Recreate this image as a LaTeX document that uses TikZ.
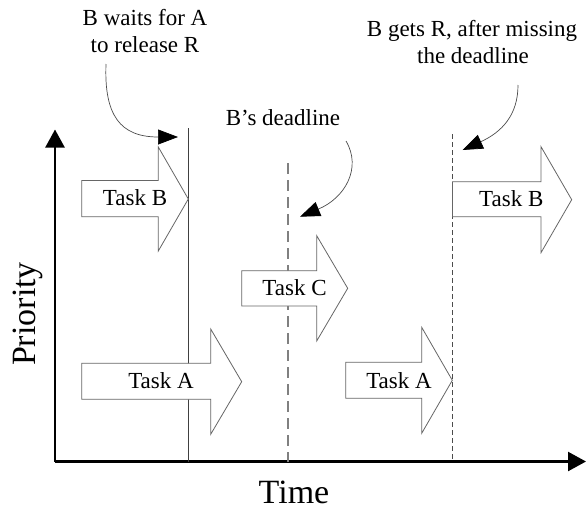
\documentclass[tikz,border=0pt]{standalone}
\usepackage{fontspec}
\setmainfont{Liberation Serif}
\usetikzlibrary{arrows.meta}
\begin{document}
\begin{tikzpicture}[x=1pt,y=-1pt,
  blockarr/.style={draw=black!60, line width=0.8pt, fill=white, line join=miter},
  tasklbl/.style={font=\fontsize{23}{27}\selectfont, inner sep=0pt, anchor=base},
  note/.style={font=\fontsize{23}{27}\selectfont, align=center, inner sep=0pt, anchor=base},
  axislbl/.style={font=\fontsize{34}{40}\selectfont, inner sep=0pt},
  axisline/.style={line width=2.4pt, -{Triangle[length=18pt,width=19pt]}},
  pointer/.style={draw=black!70, line width=0.7pt, -{Triangle[length=20pt,width=15pt,color=black,fill=black]}},
  marker/.style={draw=black!75, line width=0.9pt},
  deadline/.style={draw=black!50, line width=1.2pt, dash pattern=on 11pt off 6pt},
  gotline/.style={draw=black!70, line width=0.9pt, dash pattern=on 5pt off 3pt},
]
\useasboundingbox (0,0) rectangle (586,507);

% axes
\coordinate (o) at (55,461.5);
\coordinate (ytop) at (55,129.5);
\coordinate (xend) at (586,461.5);
\draw[axisline] (o) -- (ytop);
\draw[axisline] (o) -- (xend);
\node[axislbl, rotate=90] (prio) at (28,314) {Priority};
\node[axislbl, anchor=base] (time) at (294,503) {Time};

% vertical markers
\coordinate (m1t) at (188,128);
\coordinate (m1b) at (188,461.5);
\draw[marker] (m1t) -- (m1b);
\coordinate (m2t) at (288,163);
\coordinate (m2b) at (288,461.5);
\draw[deadline] (m2t) -- (m2b);
\coordinate (m3t) at (452.5,134);
\coordinate (m3b) at (452.5,461.5);
\draw[gotline] (m3t) -- (m3b);

% block arrows
\draw[blockarr] (81.7,180.5) -- (158.3,180.5) -- (158.3,147) -- (188.3,199) -- (158.3,251) -- (158.3,216.7) -- (81.7,216.7) -- cycle;
\draw[blockarr] (241.7,270.7) -- (316.7,270.7) -- (316.7,235.7) -- (347.7,288.3) -- (316.7,341) -- (316.7,306) -- (241.7,306) -- cycle;
\draw[blockarr] (81.7,363.3) -- (210.7,363.3) -- (210.7,329) -- (241.7,381.7) -- (210.7,434.3) -- (210.7,399.3) -- (81.7,399.3) -- cycle;
\draw[blockarr] (345.7,362.3) -- (421.7,362.3) -- (421.7,327.3) -- (452.3,380.3) -- (421.7,433.3) -- (421.7,398.3) -- (345.7,398.3) -- cycle;
\draw[blockarr] (452.5,181.7) -- (541,181.7) -- (541,146.7) -- (571.7,199.7) -- (541,252.7) -- (541,216.7) -- (452.5,216.7) -- cycle;

% task labels
\node[tasklbl] (tb1) at (135,205.5) {Task B};
\node[tasklbl] (tc) at (294.5,295) {Task C};
\node[tasklbl] (ta1) at (161,388.3) {Task A};
\node[tasklbl] (ta2) at (399,388.3) {Task A};
\node[tasklbl] (tb2) at (511.3,206.7) {Task B};

% annotations
\node[note] (n1a) at (145,25) {B waits for A};
\node[note] (n1b) at (145,52) {to release R};
\node[note] (n2) at (283,125) {B’s deadline};
\node[note] (n3a) at (472,36.7) {B gets R, after missing};
\node[note] (n3b) at (473,63.3) {the deadline};

\coordinate (p1s) at (106,64);
\coordinate (p1e) at (178,137);
\draw[pointer] (p1s) .. controls (104,115) and (120,137) .. (p1e);
\coordinate (p2s) at (346,141);
\coordinate (p2e) at (300,216.7);
\draw[pointer] (p2s) .. controls (362,168) and (345,198) .. (p2e);
\coordinate (p3s) at (518,85);
\coordinate (p3e) at (462.7,150);
\draw[pointer] (p3s) .. controls (518,115) and (502,132) .. (p3e);
\end{tikzpicture}
\end{document}
